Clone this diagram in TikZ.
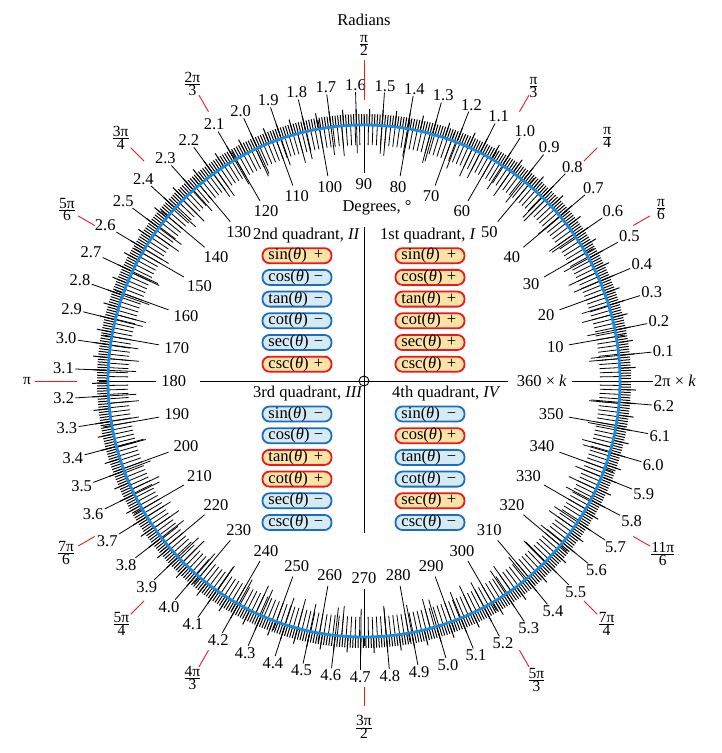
\documentclass[tikz,border=0pt]{standalone}
\usepackage{fontspec}
\setmainfont{Liberation Serif}
\definecolor{ringblue}{RGB}{25,140,225}
\definecolor{lnp}{RGB}{235,25,25}
\definecolor{bgp}{RGB}{251,226,165}
\definecolor{lnm}{RGB}{25,110,195}
\definecolor{bgm}{RGB}{214,234,244}
\newcommand{\pifrac}[2]{$\frac{\mbox{#1}}{\mbox{#2}}$}
\newcommand{\fn}[2]{\makebox[43pt][l]{#1(\textit{θ})}\makebox[14pt]{#2}}
\newcommand{\sg}[1]{\if#1p+\else −\fi}

\begin{document}
\begin{tikzpicture}[x=1pt, y=1pt,
  font=\fontsize{16.5}{19}\selectfont,
  tick/.style={line width=0.8pt},
  radtick/.style={line width=1pt},
  axis/.style={line width=0.9pt},
  sbox/.style={draw=ln#1, fill=bg#1, line width=1.8pt, rounded corners=7pt,
    minimum width=69pt, minimum height=14pt, inner sep=0pt},
  deglbl/.style={inner sep=1pt},
  radlbl/.style={inner sep=1pt},
  pimark/.style={lnp, line width=0.9pt},
  pilbl/.style={font=\fontsize{15.5}{17}\selectfont, inner sep=0pt},
  quad/.style={anchor=west, inner sep=0pt},
]
\useasboundingbox (-364,-372) rectangle (357,381);

% --- degree scale (inside) ---
\foreach \d in {0,...,359} \draw[tick] (\d:236) -- (\d:256);
\foreach \d in {5,15,...,355} \draw[tick] (\d:226) -- (\d:256);
\foreach \d in {10,20,...,350}
  \draw[tick] (\d:208) -- (\d:265) (\d:204) node[deglbl, anchor=\d] (d\d) {\d};

% --- radian scale (outside) ---
\foreach \i in {1,...,628} \draw[radtick] ({\i*0.5729578}:256) -- ({\i*0.5729578}:267);
\foreach \i in {5,10,...,625} \draw[radtick] ({\i*0.5729578}:256) -- ({\i*0.5729578}:272);
\foreach \i in {1,...,62} {
  \pgfmathsetmacro\ang{\i*5.729578}
  \pgfmathsetmacro\opp{mod(\ang+180,360)}
  \pgfmathtruncatemacro\ip{(\i+0.5)/10}
  \pgfmathtruncatemacro\fp{\i-10*\ip}
  \draw[tick] (\ang:228) -- (\ang:289) node[radlbl, anchor=\opp] (r\i) {\ip.\fp};
}

% zero line
\draw[tick] (0:208) -- (0:289);
\node[deglbl, anchor=east] (d0) at (0:204) {360 × \textit{k}};
\node[radlbl, anchor=west] (r0) at (0:289) {2π × \textit{k}};

\draw[ringblue, line width=2.8pt] (0,0) circle (256);

% --- multiples of pi ---
\foreach \a/\ri/\ro/\rl/\t [count=\n] in {
  30/311/330/343/\pifrac{π}{6}, 45/311/330/344/\pifrac{π}{4},
  60/311/330/339/\pifrac{π}{3}, 90/281/321/336/\pifrac{π}{2},
  120/311/330/343/\pifrac{2π}{3}, 135/311/330/344/\pifrac{3π}{4},
  150/311/330/343/\pifrac{5π}{6}, 180/287/329/337/π,
  210/311/330/344/\pifrac{7π}{6}, 225/311/330/343/\pifrac{5π}{4},
  240/311/330/343/\pifrac{4π}{3}, 270/306/325/346/\pifrac{3π}{2},
  300/311/330/345/\pifrac{5π}{3}, 315/311/330/343/\pifrac{7π}{4},
  330/311/330/345/\pifrac{11π}{6}} {
  \draw[pimark] (\a:\ri) -- (\a:\ro);
  \node[pilbl] (p\n) at (\a:\rl) {\t};
}

\node (radtitle) at (0,361) {Radians};
\node (degtitle) at (13,173) {Degrees, °};

% --- axes ---
\coordinate (xl) at (-164,0);
\coordinate (xr) at (144,0);
\coordinate (yt) at (0,154);
\coordinate (yb) at (0,-152);
\draw[axis] (xl) -- (xr);
\draw[axis] (yt) -- (yb);
\node[draw, circle, minimum size=10pt, inner sep=0pt, axis] (o) at (0,0) {};

% --- quadrants ---
\node[quad] (q2) at (-111,145) {2nd quadrant, \textit{II}};
\node[quad] (q1) at (16,145) {1st quadrant, \textit{I}};
\node[quad] (q3) at (-111,-13) {3rd quadrant, \textit{III}};
\node[quad] (q4) at (28,-13) {4th quadrant, \textit{IV}};

\foreach \f/\s [count=\k from 0] in {sin/p,cos/p,tan/p,cot/p,sec/p,csc/p}
  \node[sbox=\s] (q1\f) at (66,125.3-21.7*\k) {\fn{\f}{\sg\s}};
\foreach \f/\s [count=\k from 0] in {sin/p,cos/m,tan/m,cot/m,sec/m,csc/p}
  \node[sbox=\s] (q2\f) at (-67,125.3-21.7*\k) {\fn{\f}{\sg\s}};
\foreach \f/\s [count=\k from 0] in {sin/m,cos/m,tan/p,cot/p,sec/m,csc/m}
  \node[sbox=\s] (q3\f) at (-67,-33-21.7*\k) {\fn{\f}{\sg\s}};
\foreach \f/\s [count=\k from 0] in {sin/m,cos/p,tan/m,cot/m,sec/p,csc/m}
  \node[sbox=\s] (q4\f) at (66,-33-21.7*\k) {\fn{\f}{\sg\s}};

\end{tikzpicture}
\end{document}
